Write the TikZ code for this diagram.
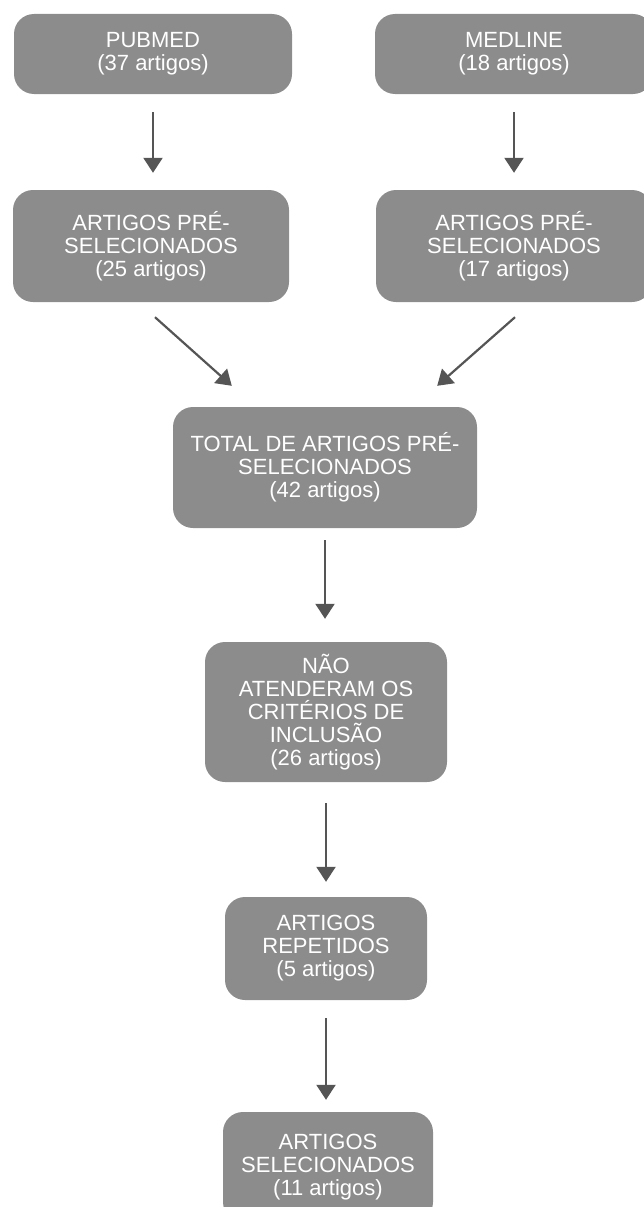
\documentclass[tikz,border=0pt]{standalone}
\usepackage{fontspec}
\setmainfont{Liberation Sans}
\usetikzlibrary{arrows.meta,calc}
\definecolor{boxgray}{RGB}{140,140,140}
\definecolor{arrowgray}{RGB}{85,85,85}
\begin{document}
\begin{tikzpicture}[x=1pt,y=-1pt,
  box/.style={fill=boxgray, rounded corners=20pt, text=white, align=center,
    font=\fontsize{22}{23}\selectfont, inner sep=0pt},
  conn/.style={draw=arrowgray, line width=2.2pt, -{Triangle[width=19pt,length=15pt]}}]
\useasboundingbox (0,0) rectangle (644,1207);
\node[box, minimum width=278pt, minimum height=80pt] (pubmed) at (153,54) {PUBMED\\(37 artigos)};
\node[box, minimum width=278pt, minimum height=80pt] (medline) at (514,54) {MEDLINE\\(18 artigos)};
\node[box, minimum width=276pt, minimum height=112pt] (pre1) at (151,246) {ARTIGOS PRÉ-\\SELECIONADOS\\(25 artigos)};
\node[box, minimum width=276pt, minimum height=112pt] (pre2) at (514,246) {ARTIGOS PRÉ-\\SELECIONADOS\\(17 artigos)};
\node[box, minimum width=304pt, minimum height=121pt] (total) at (325,467.5) {TOTAL DE ARTIGOS PRÉ-\\SELECIONADOS\\(42 artigos)};
\node[box, minimum width=242pt, minimum height=140pt] (nao) at (326,712) {NÃO\\ATENDERAM OS\\CRITÉRIOS DE\\INCLUSÃO\\(26 artigos)};
\node[box, minimum width=202pt, minimum height=103pt] (rep) at (326,948.5) {ARTIGOS\\REPETIDOS\\(5 artigos)};
\node[box, minimum width=210pt, minimum height=110pt] (sel) at (328,1167) {ARTIGOS\\SELECIONADOS\\(11 artigos)};

\draw[conn, shorten <=18pt, shorten >=17pt] (pubmed.south) -- (pubmed.south |- pre1.north);
\draw[conn, shorten <=18pt, shorten >=17pt] (medline.south) -- (medline.south |- pre2.north);
\draw[conn] ($(pre1.south)+(4,15)$) -- ($(total.north west)+(59,-21)$);
\draw[conn] ($(pre2.south)+(1,15)$) -- ($(total.north east)+(-40,-21)$);
\draw[conn, shorten <=12pt, shorten >=23pt] (total.south) -- (total.south |- nao.north);
\draw[conn, shorten <=21pt, shorten >=15pt] (nao.south) -- (nao.south |- rep.north);
\draw[conn, shorten <=18pt, shorten >=12pt] (rep.south) -- (rep.south |- sel.north);
\end{tikzpicture}
\end{document}
